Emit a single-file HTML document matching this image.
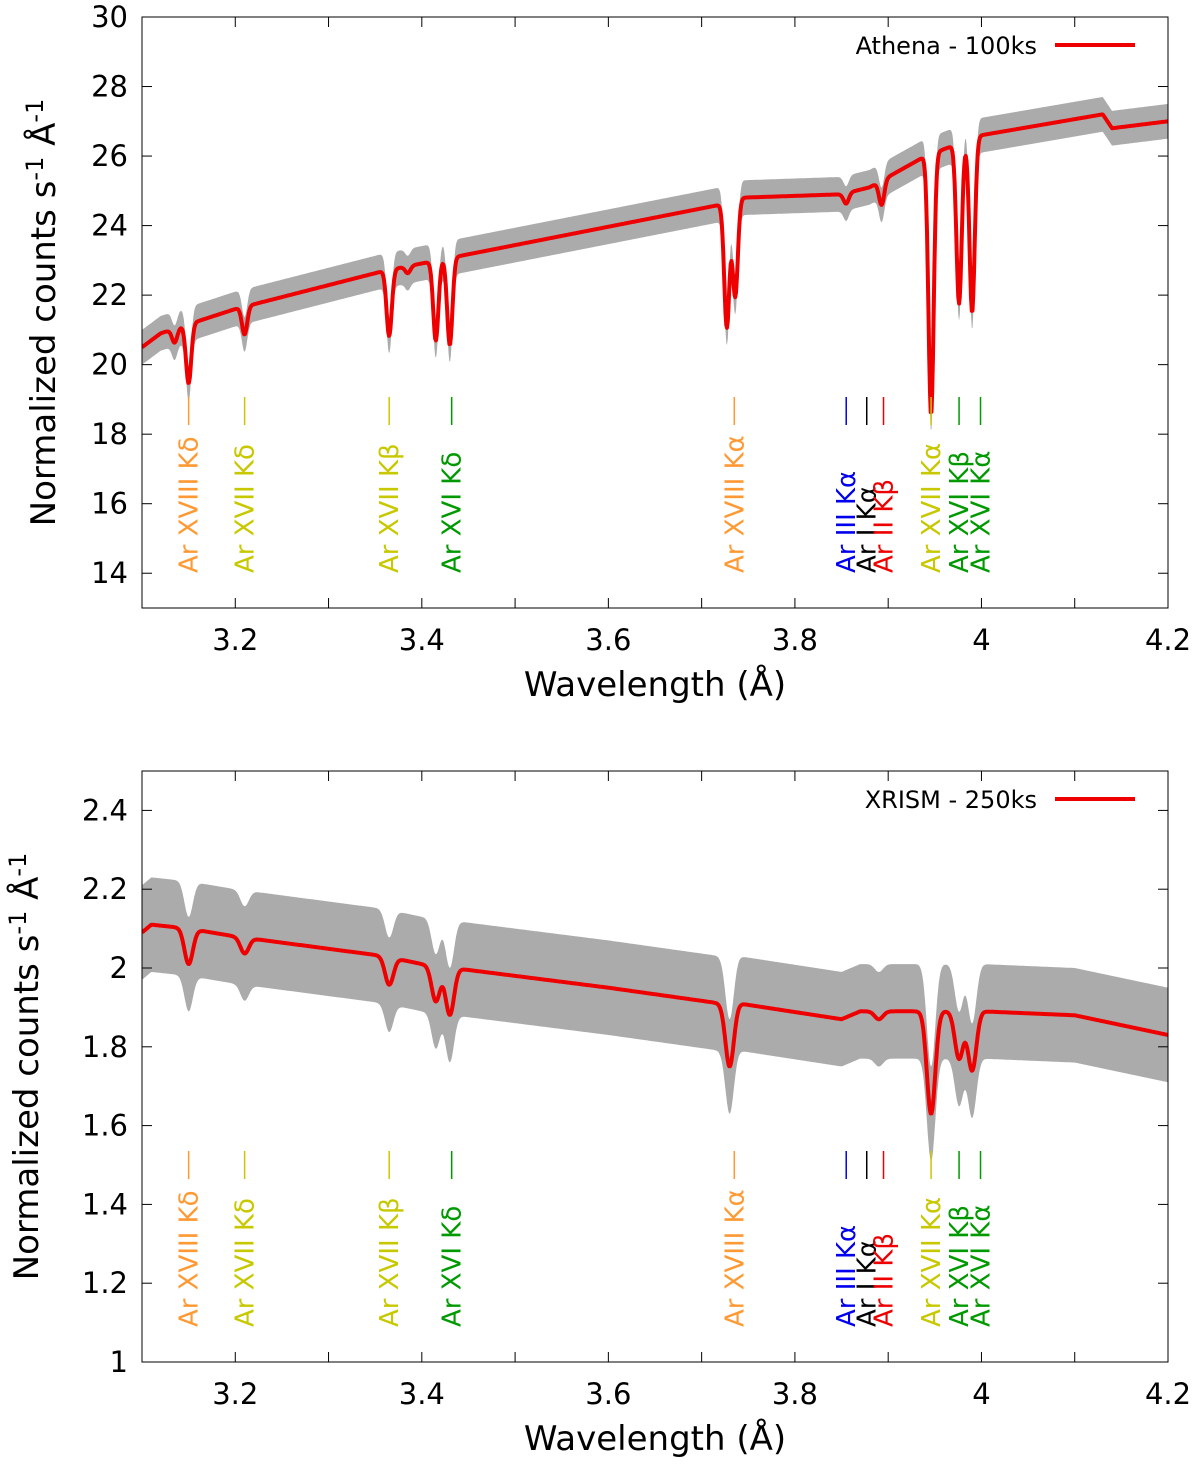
<!DOCTYPE html>
<html><head><meta charset="utf-8"><style>
body{margin:0;background:#fff;}
svg text{font-family:"DejaVu Sans","Liberation Sans",sans-serif;}
</style></head><body>
<svg id="chart" width="1200" height="1462" xmlns="http://www.w3.org/2000/svg"></svg>
<script>
// ---- data ----
const xTicks=[3.2,3.4,3.6,3.8,4.0,4.2];
const xTickLabels=["3.2","3.4","3.6","3.8","4","4.2"];
const topYTicks=[14,16,18,20,22,24,26,28,30];
const botYTicks=[1,1.2,1.4,1.6,1.8,2,2.2,2.4];
const botYTickLabels=["1","1.2","1.4","1.6","1.8","2","2.2","2.4"];
const topContX=[3.1,3.12,3.2,3.36,3.72,3.74,3.85,3.88,3.9,3.94,4.0,4.13,4.14,4.2];
const topContY=[20.5,20.9,21.6,22.7,24.6,24.8,24.9,25.1,25.4,26.0,26.6,27.2,26.8,27.0];
const topLineX=[3.135,3.15,3.21,3.365,3.385,3.415,3.43,3.727,3.736,3.855,3.893,3.946,3.976,3.99];
const topLineDepth=[0.4,1.7,0.8,1.9,0.2,2.3,2.5,3.6,2.8,0.3,0.7,7.5,4.6,5.0];
const botContX=[3.1,3.11,3.15,3.2,3.36,3.4,3.6,3.72,3.74,3.85,3.87,3.9,3.94,4.0,4.1,4.2];
const botContY=[2.09,2.11,2.10,2.08,2.03,2.01,1.95,1.91,1.91,1.87,1.89,1.89,1.89,1.89,1.88,1.83];
const botLineX=[3.15,3.21,3.365,3.415,3.43,3.73,3.89,3.946,3.976,3.99];
const botLineDepth=[0.09,0.04,0.07,0.09,0.12,0.16,0.02,0.26,0.12,0.15];
const labelNames=["Ar XVIII Kδ","Ar XVII Kδ","Ar XVII Kβ","Ar XVI Kδ","Ar XVIII Kα","Ar III Kα","Ar I Kα","Ar II Kβ","Ar XVII Kα","Ar XVI Kβ","Ar XVI Kα"];
const labelX=[3.15,3.21,3.365,3.432,3.735,3.855,3.877,3.895,3.946,3.976,3.999];
const labelColors=["#ff9933","#c8c800","#c8c800","#009900","#ff9933","#0000ee","#000000","#ee0000","#c8c800","#009900","#009900"];
// ---- drawing ----
const NS="http://www.w3.org/2000/svg";
const svg=document.getElementById('chart');
function el(t,a,p){const e=document.createElementNS(NS,t);for(const k in a)e.setAttribute(k,a[k]);(p||svg).appendChild(e);return e;}
const X0=142,X1=1168;
const xs=v=>X0+(v-3.1)/(1.1)*(X1-X0);
function interp(xa,ya,x){for(let i=0;i<xa.length-1;i++){if(x<=xa[i+1])return ya[i]+(ya[i+1]-ya[i])*(x-xa[i])/(xa[i+1]-xa[i]);}return ya[ya.length-1];}
function model(cx,cy,lx,ld,w,x){let y=interp(cx,cy,x);for(let i=0;i<lx.length;i++){y-=ld[i]*Math.exp(-0.5*Math.pow((x-lx[i])/w,2));}return y;}
function panel(o){
  const g=el('g',{});
  
  
  const ys=v=>o.y1-(v-o.ymin)/(o.ymax-o.ymin)*(o.y1-o.y0);
  const clipId=o.name+'-clip';
  const cp=el('clipPath',{id:clipId},g);el('rect',{x:X0,y:o.y0,width:X1-X0,height:o.y1-o.y0},cp);
  const dg=el('g',{'clip-path':`url(#${clipId})`},g);
  let up=[],dn=[],pts=[];
  for(let x=3.1;x<=4.2001;x+=0.0008){const m=model(o.cx,o.cy,o.lx,o.ld,o.w,x);up.push(`${xs(x).toFixed(1)},${ys(m+o.err).toFixed(1)}`);dn.unshift(`${xs(x).toFixed(1)},${ys(m-o.err).toFixed(1)}`);pts.push(`${xs(x).toFixed(1)},${ys(m).toFixed(1)}`);}
  const band=el('polygon',{points:up.concat(dn).join(' '),fill:'#ababab'},dg);
  
  
  const ml=el('polyline',{points:pts.join(' '),fill:'none',stroke:'#ee0000','stroke-width':4,'stroke-linejoin':'round'},dg);
  
  
  el('rect',{x:X0,y:o.y0,width:X1-X0,height:o.y1-o.y0,fill:'none',stroke:'#000','stroke-width':1},g);
  for(let v=3.1;v<=4.2001;v+=0.1){const x=xs(v);el('line',{x1:x,x2:x,y1:o.y1,y2:o.y1-10,stroke:'#000'},g);el('line',{x1:x,x2:x,y1:o.y0,y2:o.y0+10,stroke:'#000'},g);}
  xTicks.forEach((v,i)=>{const t=el('text',{x:xs(v),y:o.y1+42,'font-size':29,'text-anchor':'middle'},g);t.textContent=xTickLabels[i];
    });
  o.yt.forEach((v,i)=>{const y=ys(v);el('line',{x1:X0,x2:X0+10,y1:y,y2:y,stroke:'#000'},g);el('line',{x1:X1,x2:X1-10,y1:y,y2:y,stroke:'#000'},g);
    const t=el('text',{x:X0-14,y:y+10,'font-size':29,'text-anchor':'end'},g);t.textContent=o.ytl[i];
    });
  const xt=el('text',{x:655,y:o.y1+88,'font-size':34,'text-anchor':'middle'},g);xt.textContent='Wavelength (Å)';
  
  const yt=el('text',{transform:`translate(${o.ytx},${(o.y0+o.y1)/2}) rotate(-90)`,'font-size':34,'text-anchor':'middle'},g);
  yt.innerHTML='Normalized counts s<tspan dy="-12" font-size="24">-1</tspan><tspan dy="12"> Å</tspan><tspan dy="-12" font-size="24">-1</tspan>';
  
  const lg=el('g',{},g);
  
  const lt=el('text',{x:1037,y:o.y0+37,'font-size':24,'text-anchor':'end'},lg);lt.textContent=o.legend;
  el('line',{x1:1055,x2:1135,y1:o.y0+28,y2:o.y0+28,stroke:'#ee0000','stroke-width':4},lg);
  labelNames.forEach((n,i)=>{const x=xs(labelX[i]);
    const tk=el('line',{x1:x,x2:x,y1:o.markTop,y2:o.markTop+28,stroke:labelColors[i],'stroke-width':1.5},g);
    
    const t=el('text',{transform:`translate(${x+9},${o.markTop+176}) rotate(-90)`,'font-size':26,fill:labelColors[i]},g);t.textContent=n;
    });
}
panel({name:'athena-panel',y0:17,y1:608,ymin:13,ymax:30,yt:topYTicks,ytl:topYTicks.map(String),cx:topContX,cy:topContY,lx:topLineX,ld:topLineDepth,w:0.0028,err:0.5,legend:'Athena - 100ks',ytx:55,markTop:397});
panel({name:'xrism-panel',y0:771,y1:1362,ymin:1,ymax:2.5,yt:botYTicks,ytl:botYTickLabels,cx:botContX,cy:botContY,lx:botLineX,ld:botLineDepth,w:0.0045,err:0.12,legend:'XRISM - 250ks',ytx:38,markTop:1151});
</script>
</body></html>
